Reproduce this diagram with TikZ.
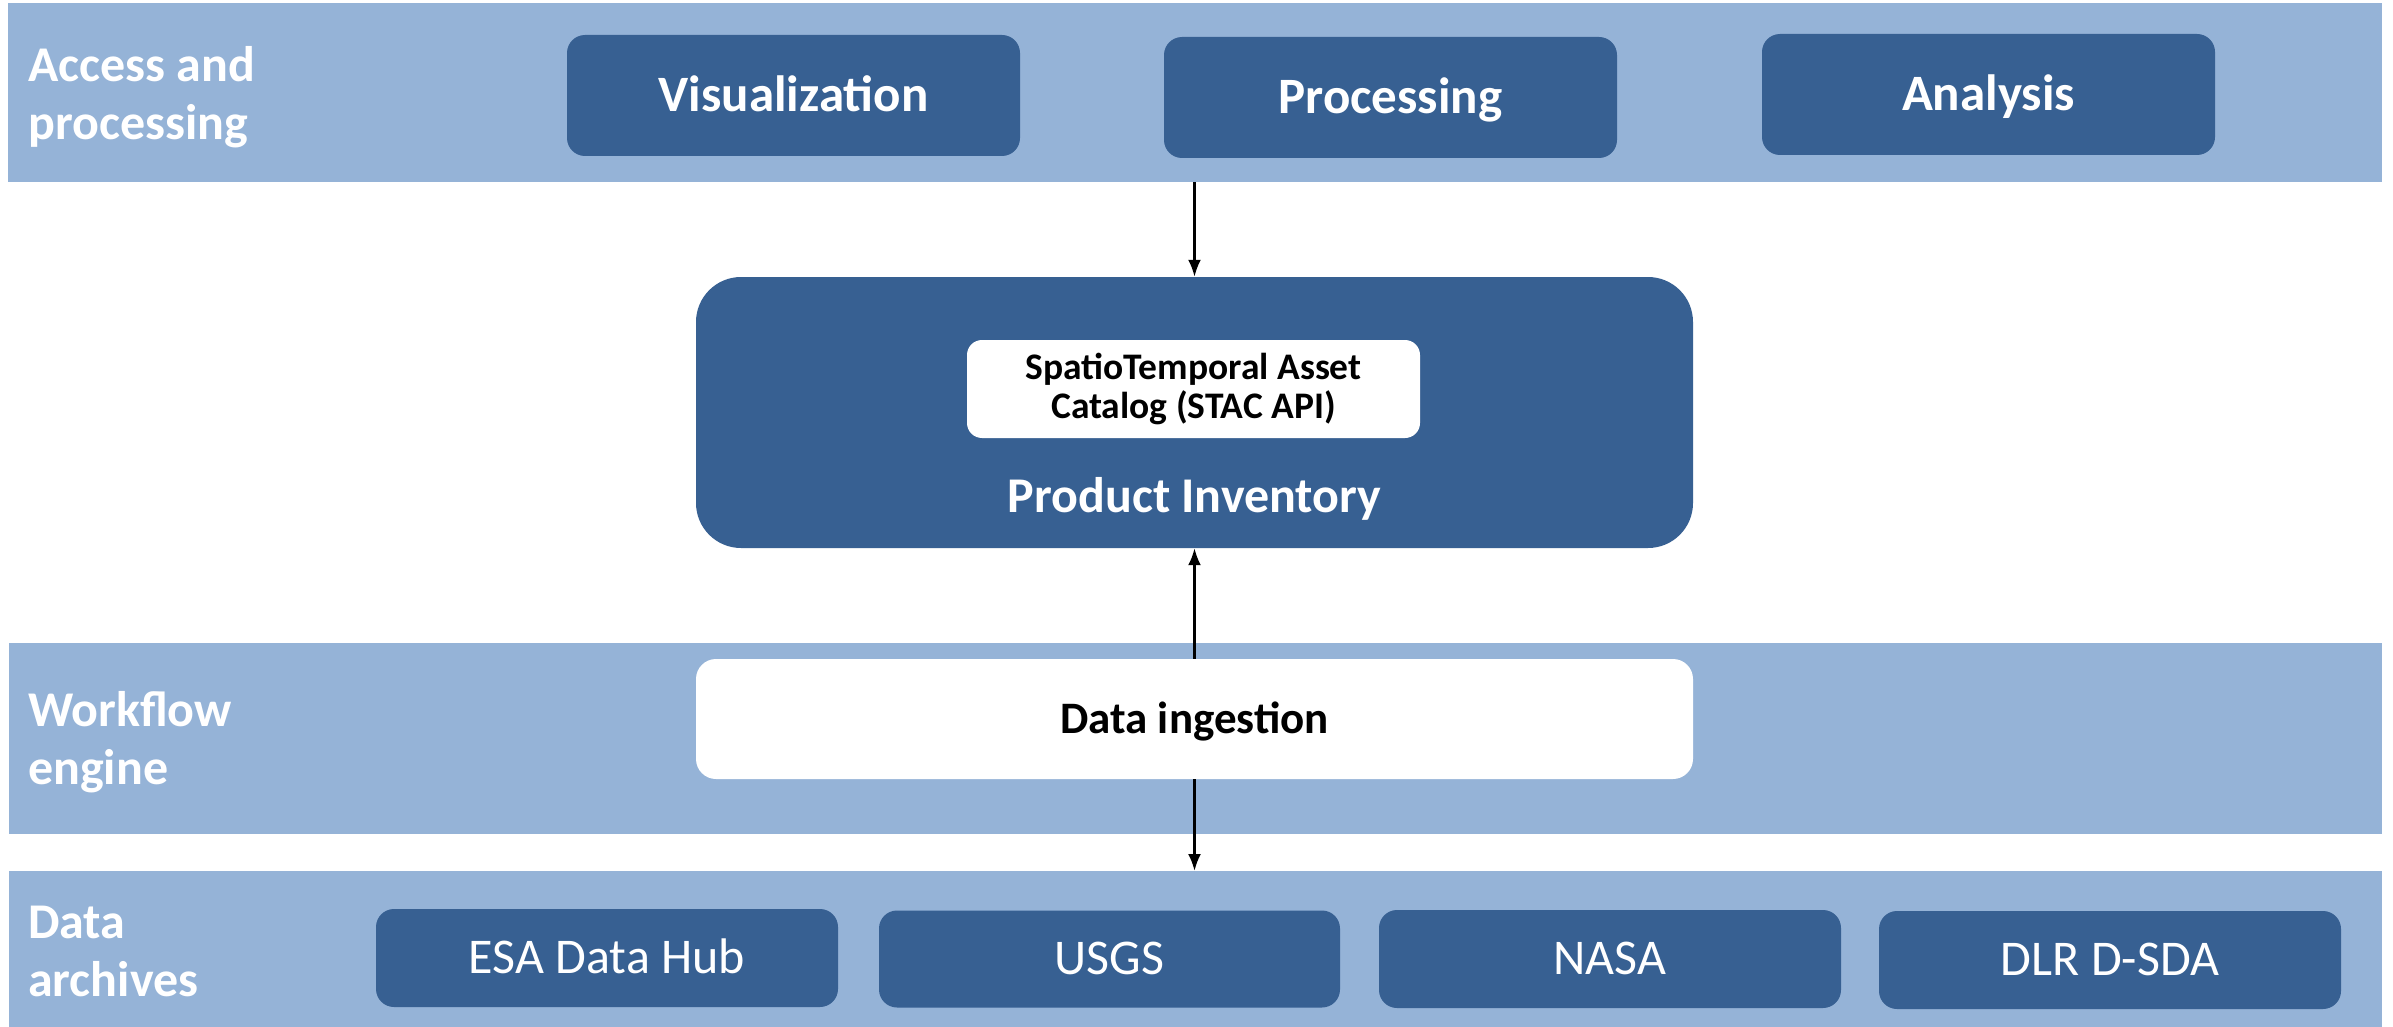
\documentclass[tikz,border=0pt]{standalone}
\usepackage{fontspec}
\setmainfont{Carlito}
\usetikzlibrary{arrows.meta}
\definecolor{bandblue}{HTML}{95B3D7}
\definecolor{darkblue}{HTML}{376092}
\tikzset{
  band/.style={fill=bandblue, draw=none, inner sep=0pt, anchor=north west},
  bandlabel/.style={text=white, inner sep=0pt, anchor=west, align=left,
    font=\fontsize{50}{58}\selectfont\bfseries},
  topbox/.style={fill=darkblue, rounded corners=18pt, inner sep=0pt,
    minimum width=453pt, minimum height=121pt, text=white,
    text height=31.6pt, text depth=0pt,
    font=\fontsize{51}{57}\selectfont\bfseries},
  archbox/.style={fill=darkblue, rounded corners=18pt, inner sep=0pt,
    minimum width=462pt, minimum height=98pt, text=white,
    text height=31.6pt, text depth=0pt,
    font=\fontsize{50}{57}\selectfont},
  invbox/.style={fill=darkblue, rounded corners=45pt, inner sep=0pt,
    minimum width=997pt, minimum height=271pt},
  whitebox/.style={fill=white, inner sep=0pt, text=black},
  arr/.style={-{Latex[length=17pt,width=13pt]}, line width=2.5pt, black}
}
\begin{document}
\begin{tikzpicture}[x=1pt,y=-1pt]
\useasboundingbox (0,0) rectangle (2393,1027);
\fill[white] (0,0) rectangle (2393,1027);
% bands
\node[band, minimum width=2374pt, minimum height=179pt] (band1) at (8,3) {};
\node[band, minimum width=2373pt, minimum height=191pt] (band2) at (9,643) {};
\node[band, minimum width=2373pt, minimum height=156pt] (band3) at (9,871) {};
% band labels
\node[bandlabel] (lab1) at (28,97.5) {Access and\\processing};
\node[bandlabel] (lab2) at (28,742.5) {Workflow\\engine};
\node[bandlabel] (lab3) at (28,951.5) {Data\\archives};
% top boxes
\node[topbox] (vis) at (793.5,95.5) {Visualization};
\node[topbox] (proc) at (1390.5,97.5) {Processing};
\node[topbox] (ana) at (1988.5,94.5) {Analysis};
% product inventory
\node[invbox] (pinv) at (1194.5,412.5) {};
\node[whitebox, rounded corners=15pt, minimum width=453pt, minimum height=98pt,
  align=center, font=\fontsize{37.5}{39}\selectfont\bfseries] (stac) at (1193.5,389)
  {SpatioTemporal Asset\\Catalog (STAC API)};
\node[text=white, inner sep=0pt, text height=31.6pt, text depth=0pt,
  font=\fontsize{50}{55}\selectfont\bfseries] (pinvlabel)
  at (1194.5,497) {Product Inventory};
% data ingestion
\node[whitebox, rounded corners=20pt, minimum width=997pt, minimum height=120pt,
  text height=28.4pt, text depth=0pt,
  font=\fontsize{45}{50}\selectfont\bfseries] (di) at (1194.5,719) {Data ingestion};
% archives
\node[archbox] (esa) at (607,958) {ESA Data Hub};
\node[archbox, minimum width=461pt, minimum height=97pt] (usgs) at (1109.5,959) {USGS};
\node[archbox] (nasa) at (1610,959) {NASA};
\node[archbox] (dlr) at (2110,960) {DLR D-SDA};
% connectors
\draw[arr] (band1.south -| pinv.north) -- (pinv.north);
\draw[arr] (di.north) -- (pinv.south);
\draw[arr] (di.south) -- (di.south |- band3.north);
\end{tikzpicture}
\end{document}
